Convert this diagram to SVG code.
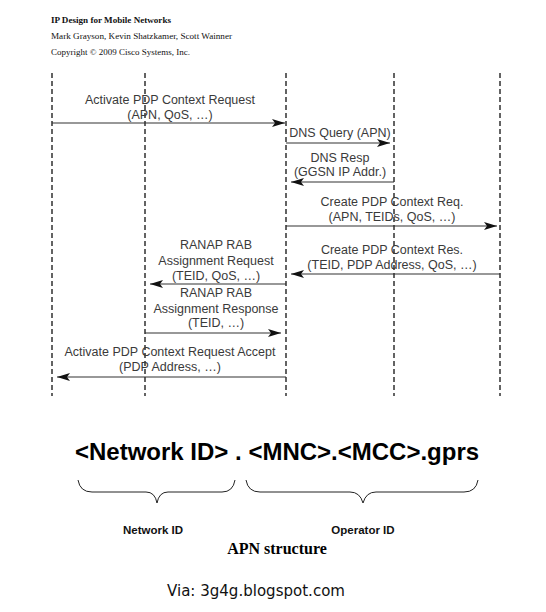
<svg xmlns="http://www.w3.org/2000/svg" width="546" height="612" viewBox="0 0 546 612">
<style>
.hdr{font-family:"Liberation Serif",serif;font-size:9px;fill:#111}
.msg{font-family:"Liberation Sans",Arial,sans-serif;font-size:12.5px;fill:#3a3a3a;text-anchor:middle}
.life{stroke:#222;stroke-width:1.4;stroke-dasharray:5 3;fill:none}
.arr{stroke:#333;stroke-width:1.2;fill:none;marker-end:url(#ah)}
.brace{stroke:#222;stroke-width:1;fill:none}
.lbl{font-family:"Liberation Sans",Arial,sans-serif;font-size:11.5px;font-weight:bold;fill:#111;text-anchor:middle}
</style>
<defs>
<marker id="ah" viewBox="0 0 13 8" markerWidth="13" markerHeight="8" refX="13" refY="4" orient="auto" markerUnits="userSpaceOnUse">
<path d="M0,0 L13,4 L0,8 L3,4 z" fill="#111"/>
</marker>
</defs>
<rect width="546" height="612" fill="#fff"/>
<g id="header">
<text class="hdr" x="51" y="23" font-weight="bold" textLength="120" lengthAdjust="spacingAndGlyphs">IP Design for Mobile Networks</text>
<text class="hdr" x="51" y="39" textLength="181" lengthAdjust="spacingAndGlyphs">Mark Grayson, Kevin Shatzkamer, Scott Wainner</text>
<text class="hdr" x="51" y="55" textLength="139" lengthAdjust="spacingAndGlyphs">Copyright © 2009 Cisco Systems, Inc.</text>
</g>
<g id="lifelines">
<line id="ms" class="life" x1="52" y1="73" x2="52" y2="396"/>
<line id="rnc" class="life" x1="145" y1="73" x2="145" y2="396"/>
<line id="sgsn" class="life" x1="286" y1="73" x2="286" y2="396"/>
<line id="dns" class="life" x1="394" y1="73" x2="394" y2="396"/>
<line id="ggsn" class="life" x1="500" y1="73" x2="500" y2="396"/>
</g>
<g id="connectors">
<line class="arr" x1="52" y1="123" x2="285" y2="123"/>
<line class="arr" x1="286" y1="143" x2="390" y2="143"/>
<line class="arr" x1="394" y1="182" x2="291" y2="182"/>
<line class="arr" x1="286" y1="226" x2="497" y2="226"/>
<line class="arr" x1="500" y1="274" x2="291" y2="274"/>
<line class="arr" x1="286" y1="284" x2="150" y2="284"/>
<line class="arr" x1="145" y1="333" x2="281" y2="333"/>
<line class="arr" x1="286" y1="377" x2="57" y2="377"/>
</g>
<g id="labels">
<text class="msg" x="170" y="104">Activate PDP Context Request</text>
<text class="msg" x="170" y="119">(APN, QoS, …)</text>
<text class="msg" x="340" y="137">DNS Query (APN)</text>
<text class="msg" x="340" y="162">DNS Resp</text>
<text class="msg" x="340" y="176">(GGSN IP Addr.)</text>
<text class="msg" x="392" y="206">Create PDP Context Req.</text>
<text class="msg" x="392" y="221">(APN, TEIDs, QoS, …)</text>
<text class="msg" x="392" y="254">Create PDP Context Res.</text>
<text class="msg" x="392" y="269">(TEID, PDP Address, QoS, …)</text>
<text class="msg" x="216" y="249">RANAP RAB</text>
<text class="msg" x="216" y="265">Assignment Request</text>
<text class="msg" x="216" y="280">(TEID, QoS, …)</text>
<text class="msg" x="216" y="297">RANAP RAB</text>
<text class="msg" x="216" y="313">Assignment Response</text>
<text class="msg" x="216" y="327">(TEID, …)</text>
<text class="msg" x="170" y="356">Activate PDP Context Request Accept</text>
<text class="msg" x="170" y="371">(PDP Address, …)</text>
</g>
<g id="apn">
<text x="75" y="460" font-family="Liberation Sans,Arial,sans-serif" font-size="24" font-weight="bold" fill="#000">&lt;Network ID&gt; . &lt;MNC&gt;.&lt;MCC&gt;.gprs</text>
<path class="brace" d="M78,480 Q80,492 92,492 L146,492 Q155,492 157,503 Q159,492 168,492 L222,492 Q233,492 235,480"/>
<path class="brace" d="M246,480 Q248,492 260,492 L350,492 Q360,492 363,503 Q366,492 376,492 L464,492 Q476,492 478,480"/>
<text class="lbl" x="153" y="534">Network ID</text>
<text class="lbl" x="363" y="534">Operator ID</text>
<text x="277" y="554" font-family="Liberation Serif,serif" font-size="16" font-weight="bold" fill="#000" text-anchor="middle">APN structure</text>
<text x="167" y="596" font-family="DejaVu Sans,sans-serif" font-size="15" fill="#111" textLength="178" lengthAdjust="spacingAndGlyphs">Via: 3g4g.blogspot.com</text>
</g>
</svg>
